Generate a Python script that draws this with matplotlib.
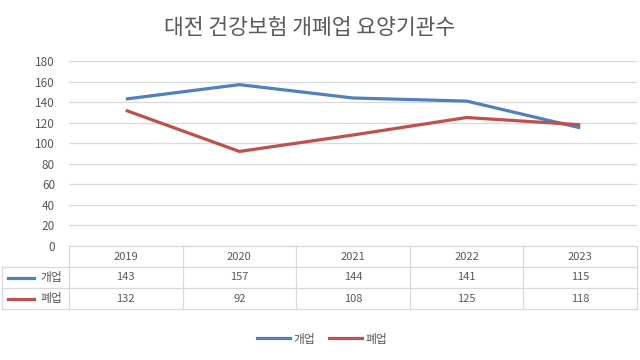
import matplotlib
matplotlib.use("Agg")
import matplotlib.pyplot as plt
from matplotlib.lines import Line2D

plt.rcParams['font.family'] = ['Noto Sans CJK KR', 'DejaVu Sans']

years = ['2019', '2020', '2021', '2022', '2023']
series_names = ['개업', '폐업']
open_counts = [143, 157, 144, 141, 115]
close_counts = [132, 92, 108, 125, 118]
colors = ['#4f81bd', '#c0504d']
title = '대전 건강보험 개폐업 요양기관수'

W, H = 640, 360
fig = plt.figure(figsize=(6.4, 3.6), dpi=100)
fig.patch.set_facecolor('white')

def px(x0, y0, x1, y1):
    # pixel box (top-left origin) -> figure fraction
    return [x0 / W, 1 - y1 / H, (x1 - x0) / W, (y1 - y0) / H]

text_col = '#595959'
grid_col = '#d9d9d9'

# main plot
ax = fig.add_axes(px(69, 61, 637, 246))
xs = range(len(years))
for vals, c in zip([open_counts, close_counts], colors):
    ax.plot(xs, vals, color=c, lw=2.3, solid_capstyle='butt')
ax.set_xlim(-0.5, len(years) - 0.5)
ax.set_ylim(0, 180)
ax.set_yticks(range(0, 181, 20))
ax.yaxis.grid(True, color=grid_col, lw=0.9)
ax.set_axisbelow(True)
ax.set_xticks([])
for s in ax.spines.values():
    s.set_visible(False)
ax.tick_params(axis='y', length=0, labelsize=8.5, labelcolor=text_col, pad=10)

# data table
col_w = 568 / len(years)
left_w = 67
tax = fig.add_axes(px(2, 246, 637, 309))
tax.set_xlim(-0.5 - left_w / col_w, len(years) - 0.5)
tax.set_ylim(3, 0)
tax.axis('off')
lc = grid_col
x_left = -0.5 - left_w / col_w
# horizontal lines
tax.plot([-0.5, len(years) - 0.5], [0, 0], color=lc, lw=0.9, clip_on=False)
for r in [1, 2, 3]:
    tax.plot([x_left, len(years) - 0.5], [r, r], color=lc, lw=0.9, clip_on=False)
# vertical lines
for i in range(len(years) + 1):
    tax.plot([i - 0.5, i - 0.5], [0, 3], color=lc, lw=0.9, clip_on=False)
tax.plot([x_left, x_left], [1, 3], color=lc, lw=0.9, clip_on=False)

for i, y in enumerate(years):
    tax.text(i, 0.5, y, ha='center', va='center', fontsize=8, color=text_col)
for r, (name, vals, c) in enumerate(zip(series_names, [open_counts, close_counts], colors)):
    row = r + 1.5
    for i, v in enumerate(vals):
        tax.text(i, row, str(v), ha='center', va='center', fontsize=8, color=text_col)
    tax.plot([x_left + 0.05, x_left + 0.28], [row, row], color=c, lw=2.3, clip_on=False)
    tax.text(-0.5 - 0.06, row, name, ha='right', va='center', fontsize=8.5, color=text_col)

# title
fig.text(310 / W, 1 - 28 / H, title, ha='center', va='center', fontsize=15.5, color=text_col)

# legend
handles = [Line2D([], [], color=c, lw=2.3) for c in colors]
fig.legend(handles, series_names, loc='center', bbox_to_anchor=(322 / W, 1 - 339 / H),
           ncol=2, frameon=False, fontsize=8.5, labelcolor=text_col,
           handlelength=2.8, handletextpad=0.3, columnspacing=1.2)

fig.savefig('out.png', dpi=100, facecolor='white')
